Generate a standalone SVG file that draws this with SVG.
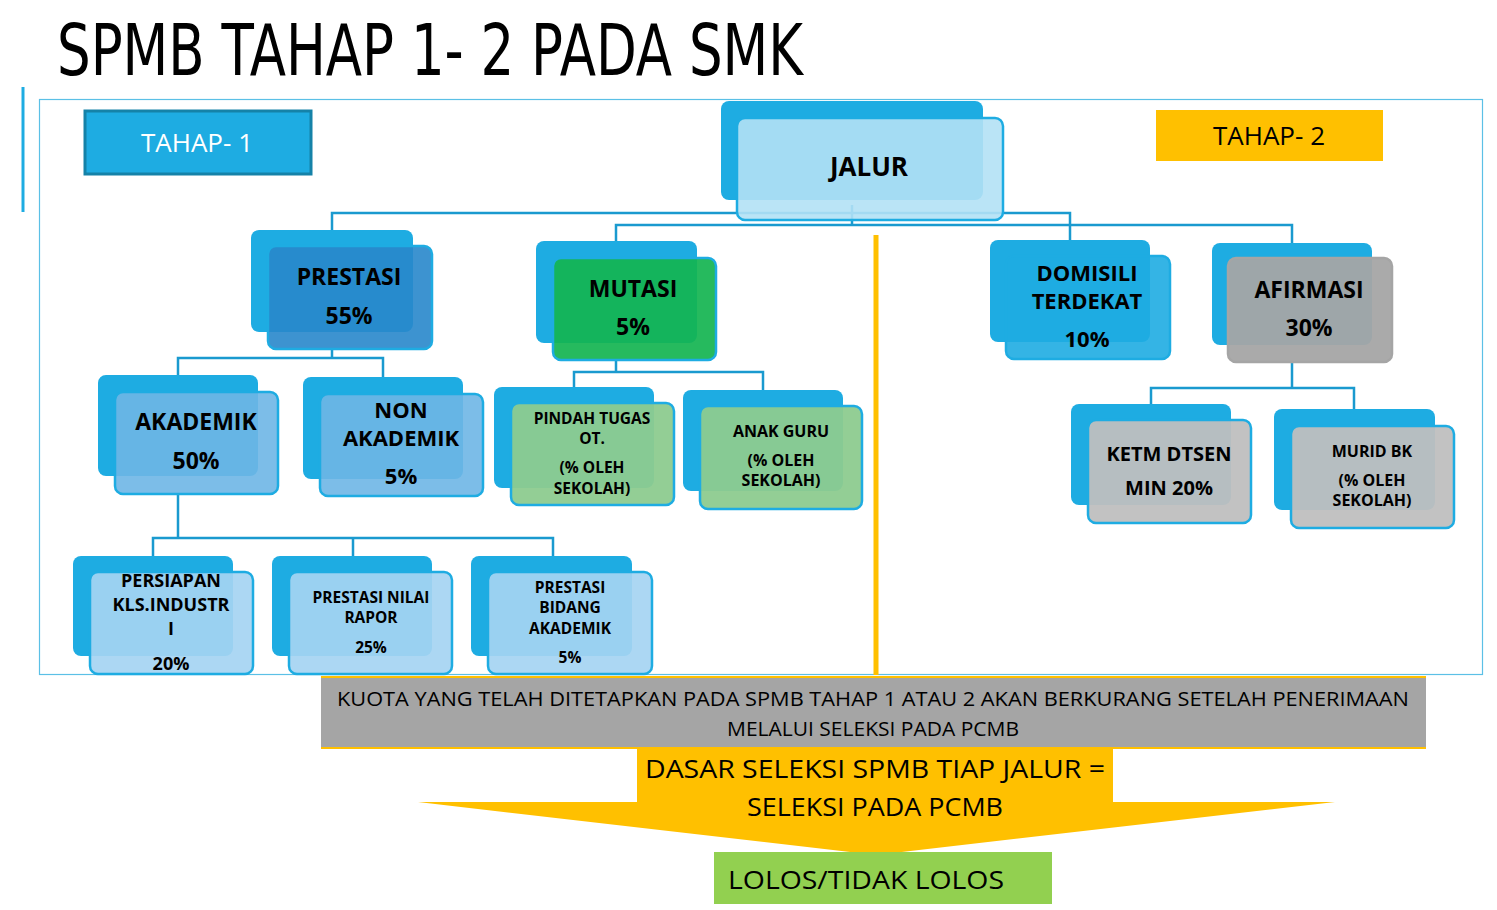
<svg xmlns="http://www.w3.org/2000/svg" width="1497" height="910" viewBox="0 0 1497 910">
<style>
.back{fill:#1EACE2;}
.front{stroke:#1EACE2;stroke-width:2.5;}
.t{font-family:"Open Sans","DejaVu Sans",sans-serif;font-weight:bold;fill:#000;text-anchor:middle;}
.c{fill:none;stroke:#1A9ACF;stroke-width:2.5;}
.n{font-family:"Open Sans","DejaVu Sans",sans-serif;fill:#000;text-anchor:middle;}
</style>
<rect width="1497" height="910" fill="#fff"/>
<text x="57" y="75" font-family="'DejaVu Sans',sans-serif" font-size="72" textLength="746" lengthAdjust="spacingAndGlyphs" fill="#000">SPMB TAHAP 1- 2 PADA SMK</text>
<line x1="23" y1="87" x2="23" y2="212" stroke="#1EACE2" stroke-width="3"/>
<rect x="39.5" y="99.5" width="1443" height="575" fill="none" stroke="#5BC0E6" stroke-width="1.2"/>
<g id="tahap1"><rect x="85" y="111" width="226" height="63" fill="#1EACE2" stroke="#1582A8" stroke-width="3"/><text x="197" y="152" class="n" font-size="26" style="fill:#fff">TAHAP- 1</text></g>
<g id="tahap2"><rect x="1156" y="110" width="227" height="51" fill="#FFC000"/><text x="1269" y="145" class="n" font-size="26" fill="#222">TAHAP- 2</text></g>
<line x1="876" y1="235" x2="876" y2="675" stroke="#FFC000" stroke-width="5"/>
<g id="connectors">
<path class="c" d="M852 205V225M332 230V213H1070V240M616 241V225H1292V243"/>
<path class="c" d="M332 349V358M178 375V358H383V377"/>
<path class="c" d="M616 360V372M574 387V372H763V390"/>
<path class="c" d="M1292 362V388M1151 404V388H1354V409"/>
<path class="c" d="M178 494V538M153 556V538H553V556M353 538V556"/>
</g>
<g id="jalur"><rect class="back" x="721" y="101" width="262" height="99" rx="8"/><rect class="front" x="737" y="118" width="266" height="102" rx="8" fill="#B3E1F5" fill-opacity="0.9"/><text class="t" x="869" y="176" font-size="26">JALUR</text></g>
<g id="prestasi"><rect class="back" x="251" y="230" width="162" height="102" rx="8"/><rect class="front" x="268" y="246" width="164" height="103" rx="8" fill="#2887CB" fill-opacity="0.9"/><text class="t" x="349" y="285" font-size="23">PRESTASI</text><text class="t" x="349" y="324" font-size="23">55%</text></g>
<g id="mutasi"><rect class="back" x="536" y="241" width="161" height="102" rx="8"/><rect class="front" x="553" y="258" width="163" height="102" rx="8" fill="#14B450" fill-opacity="0.92"/><text class="t" x="633" y="297" font-size="23">MUTASI</text><text class="t" x="633" y="335" font-size="23">5%</text></g>
<g id="domisili"><rect class="back" x="990" y="240" width="160" height="102" rx="8"/><rect class="front" x="1006" y="256" width="164" height="103" rx="8" fill="#1EACE2" fill-opacity="0.9"/><text class="t" x="1087" y="281" font-size="22">DOMISILI</text><text class="t" x="1087" y="309" font-size="22">TERDEKAT</text><text class="t" x="1087" y="347" font-size="22">10%</text></g>
<g id="afirmasi"><rect class="back" x="1212" y="243" width="160" height="102" rx="8"/><rect class="front" x="1228" y="258" width="164" height="104" rx="8" fill="#A5A5A5" fill-opacity="0.95" style="stroke:#A5A5A5"/><text class="t" x="1309" y="298" font-size="23">AFIRMASI</text><text class="t" x="1309" y="336" font-size="23">30%</text></g>
<g id="akademik"><rect class="back" x="98" y="375" width="160" height="101" rx="8"/><rect class="front" x="115" y="392" width="163" height="102" rx="8" fill="#6EB6E6" fill-opacity="0.9"/><text class="t" x="196" y="430" font-size="23">AKADEMIK</text><text class="t" x="196" y="469" font-size="23">50%</text></g>
<g id="nonakademik"><rect class="back" x="303" y="377" width="160" height="102" rx="8"/><rect class="front" x="320" y="394" width="163" height="102" rx="8" fill="#6EB6E6" fill-opacity="0.9"/><text class="t" x="401" y="418" font-size="22">NON</text><text class="t" x="401" y="446" font-size="22">AKADEMIK</text><text class="t" x="401" y="484" font-size="22">5%</text></g>
<g id="pindah"><rect class="back" x="494" y="387" width="160" height="101" rx="8"/><rect class="front" x="511" y="403" width="163" height="102" rx="8" fill="#8DCB8F" fill-opacity="0.95"/><text class="t" x="592" y="424" font-size="15.5">PINDAH TUGAS</text><text class="t" x="592" y="444" font-size="15.5">OT.</text><text class="t" x="592" y="473" font-size="15.5">(% OLEH</text><text class="t" x="592" y="494" font-size="15.5">SEKOLAH)</text></g>
<g id="anakguru"><rect class="back" x="683" y="390" width="160" height="101" rx="8"/><rect class="front" x="700" y="406" width="162" height="103" rx="8" fill="#8DCB8F" fill-opacity="0.95"/><text class="t" x="781" y="437" font-size="16">ANAK GURU</text><text class="t" x="781" y="466" font-size="16">(% OLEH</text><text class="t" x="781" y="486" font-size="16">SEKOLAH)</text></g>
<g id="ketm"><rect class="back" x="1071" y="404" width="160" height="101" rx="8"/><rect class="front" x="1088" y="420" width="163" height="103" rx="8" fill="#BFBFBF" fill-opacity="0.95"/><text class="t" x="1169" y="461" font-size="20">KETM DTSEN</text><text class="t" x="1169" y="495" font-size="20">MIN 20%</text></g>
<g id="muridbk"><rect class="back" x="1274" y="409" width="161" height="101" rx="8"/><rect class="front" x="1291" y="426" width="163" height="102" rx="8" fill="#BFBFBF" fill-opacity="0.95"/><text class="t" x="1372" y="457" font-size="16">MURID BK</text><text class="t" x="1372" y="486" font-size="16">(% OLEH</text><text class="t" x="1372" y="506" font-size="16">SEKOLAH)</text></g>
<g id="persiapan"><rect class="back" x="73" y="556" width="160" height="100" rx="8"/><rect class="front" x="90" y="572" width="163" height="102" rx="8" fill="#A5D4F2" fill-opacity="0.92"/><text class="t" x="171" y="587" font-size="18">PERSIAPAN</text><text class="t" x="171" y="611" font-size="18">KLS.INDUSTR</text><text class="t" x="171" y="635" font-size="18">I</text><text class="t" x="171" y="670" font-size="18">20%</text></g>
<g id="prestasinilai"><rect class="back" x="272" y="556" width="160" height="100" rx="8"/><rect class="front" x="289" y="572" width="163" height="102" rx="8" fill="#A5D4F2" fill-opacity="0.92"/><text class="t" x="371" y="603" font-size="15.5">PRESTASI NILAI</text><text class="t" x="371" y="623" font-size="15.5">RAPOR</text><text class="t" x="371" y="653" font-size="15.5">25%</text></g>
<g id="prestasibidang"><rect class="back" x="471" y="556" width="161" height="100" rx="8"/><rect class="front" x="488" y="572" width="164" height="102" rx="8" fill="#A5D4F2" fill-opacity="0.92"/><text class="t" x="570" y="593" font-size="15.5">PRESTASI</text><text class="t" x="570" y="613" font-size="15.5">BIDANG</text><text class="t" x="570" y="634" font-size="15.5">AKADEMIK</text><text class="t" x="570" y="663" font-size="15.5">5%</text></g>
<g id="arrow"><polygon points="637,748 1113,748 1113,802 1335,802 876,855 418,802 637,802" fill="#FFC000"/><text class="n" x="875" y="778" font-size="26" textLength="460" lengthAdjust="spacingAndGlyphs">DASAR SELEKSI SPMB TIAP JALUR =</text><text class="n" x="875" y="816" font-size="26" textLength="256" lengthAdjust="spacingAndGlyphs">SELEKSI PADA PCMB</text></g>
<g id="kuota"><rect x="321" y="677" width="1105" height="71" fill="#A5A5A5"/><line x1="321" y1="677" x2="1426" y2="677" stroke="#FFC000" stroke-width="2"/><line x1="321" y1="748" x2="1426" y2="748" stroke="#FFC000" stroke-width="2"/><text class="n" x="873" y="706" font-size="20" textLength="1072" lengthAdjust="spacingAndGlyphs">KUOTA YANG TELAH DITETAPKAN PADA SPMB TAHAP 1 ATAU 2 AKAN BERKURANG SETELAH PENERIMAAN</text><text class="n" x="873" y="736" font-size="20" textLength="292" lengthAdjust="spacingAndGlyphs">MELALUI SELEKSI PADA PCMB</text></g>
<g id="lolos"><rect x="714" y="852" width="338" height="52" fill="#92D050"/><text x="728" y="889" font-family="'Open Sans','DejaVu Sans',sans-serif" font-size="26" textLength="276" lengthAdjust="spacingAndGlyphs" fill="#000">LOLOS/TIDAK LOLOS</text></g>
</svg>
